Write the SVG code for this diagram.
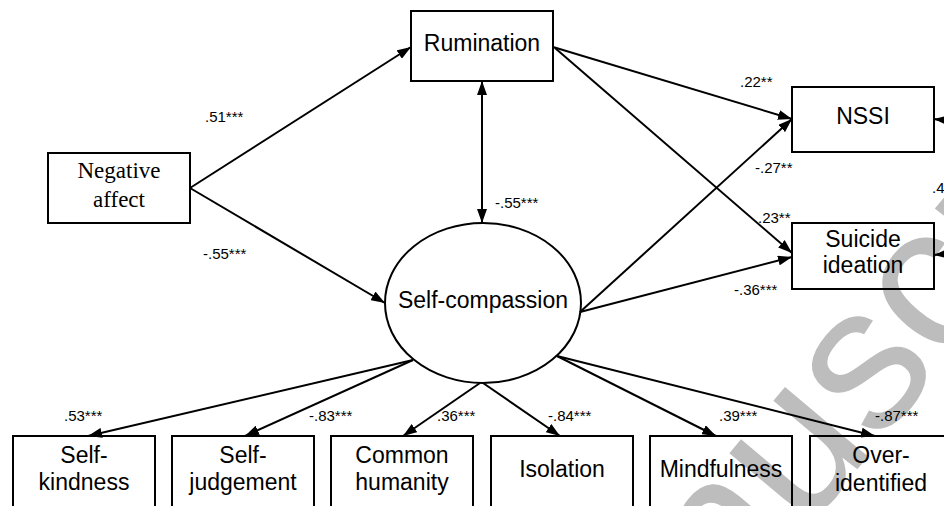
<svg xmlns="http://www.w3.org/2000/svg" width="944" height="506" viewBox="0 0 944 506">
<defs>
<marker id="ah" viewBox="0 0 14 10" refX="14" refY="5" markerWidth="14" markerHeight="10" markerUnits="userSpaceOnUse" orient="auto-start-reverse">
<path d="M0,0 L14,5 L0,10 z" fill="#000"/>
</marker>
<style>
.box{fill:none;stroke:#000;stroke-width:2}
.t{font-family:"Liberation Sans",Arial,sans-serif;font-size:23px;fill:#000;text-anchor:middle}
.s{font-family:"Liberation Serif","Times New Roman",serif;font-size:23px;fill:#000;text-anchor:middle}
.l{font-family:"Liberation Sans",Arial,sans-serif;font-size:15px;fill:#000}
.c{fill:none;stroke:#000;stroke-width:2;marker-end:url(#ah)}
.wm{font-family:"Liberation Sans",Arial,sans-serif;font-size:205px;fill:#bdbdbd}
</style>
</defs>
<rect width="944" height="506" fill="#fff"/>
<g id="watermark" transform="translate(800,455) rotate(-50)">
<text class="wm" x="-456" y="53">Manuscript</text>
</g>
<g id="connectors">
<path class="c" d="M190,188 L411,47"/>
<path class="c" d="M190,188 L385,303"/>
<path class="c" d="M482,81 L482,223" marker-start="url(#ah)"/>
<path class="c" d="M553,47 L792,119"/>
<path class="c" d="M555,48 L792,253"/>
<path class="c" d="M580,312 L792,119"/>
<path class="c" d="M580,312 L792,257"/>
<path class="c" d="M413,360 L88,436"/>
<path class="c" d="M413,360 L245,436"/>
<path class="c" d="M480,383 L403,436"/>
<path class="c" d="M483,383 L560,436"/>
<path class="c" d="M557,356 L716,436"/>
<path class="c" d="M557,356 L875,436"/>
<path class="c" d="M934,119 C990,125 990,250 934,255" marker-start="url(#ah)"/>
</g>
<g id="labels">
<text class="l" x="205" y="122">.51***</text>
<text class="l" x="203" y="259">-.55***</text>
<text class="l" x="495" y="208">-.55***</text>
<text class="l" x="740" y="87">.22**</text>
<text class="l" x="755" y="173">-.27**</text>
<text class="l" x="758" y="223">.23**</text>
<text class="l" x="734" y="295">-.36***</text>
<text class="l" x="932" y="193">.4</text>
<text class="l" x="64" y="421">.53***</text>
<text class="l" x="309" y="421">-.83***</text>
<text class="l" x="437" y="421">.36***</text>
<text class="l" x="548" y="421">-.84***</text>
<text class="l" x="719" y="421">.39***</text>
<text class="l" x="875" y="421">-.87***</text>
</g>
<g id="negative-affect">
<rect class="box" x="48" y="153" width="142" height="70"/>
<text class="s" x="119" y="178">Negative</text>
<text class="s" x="119" y="207">affect</text>
</g>
<g id="rumination">
<rect class="box" x="411" y="11" width="142" height="70"/>
<text class="t" x="482" y="51">Rumination</text>
</g>
<g id="self-compassion">
<ellipse cx="483" cy="303" rx="98" ry="80" fill="none" stroke="#000" stroke-width="2"/>
<text class="t" x="483" y="308">Self-compassion</text>
</g>
<g id="nssi">
<rect class="box" x="792" y="87" width="142" height="65"/>
<text class="t" x="863" y="124">NSSI</text>
</g>
<g id="suicide-ideation">
<rect class="box" x="792" y="223" width="142" height="66"/>
<text class="t" x="863" y="247">Suicide</text>
<text class="t" x="863" y="273">ideation</text>
</g>
<g id="self-kindness">
<rect class="box" x="13" y="436" width="142" height="90"/>
<text class="t" x="84" y="463">Self-</text>
<text class="t" x="84" y="490">kindness</text>
</g>
<g id="self-judgement">
<rect class="box" x="172" y="436" width="142" height="90"/>
<text class="t" x="243" y="463">Self-</text>
<text class="t" x="243" y="490">judgement</text>
</g>
<g id="common-humanity">
<rect class="box" x="331" y="436" width="142" height="90"/>
<text class="t" x="402" y="463">Common</text>
<text class="t" x="402" y="490">humanity</text>
</g>
<g id="isolation">
<rect class="box" x="491" y="436" width="142" height="90"/>
<text class="t" x="562" y="477">Isolation</text>
</g>
<g id="mindfulness">
<rect class="box" x="650" y="436" width="142" height="90"/>
<text class="t" x="721" y="477">Mindfulness</text>
</g>
<g id="over-identified">
<rect class="box" x="810" y="436" width="142" height="90"/>
<text class="t" x="881" y="463">Over-</text>
<text class="t" x="881" y="491">identified</text>
</g>
</svg>
